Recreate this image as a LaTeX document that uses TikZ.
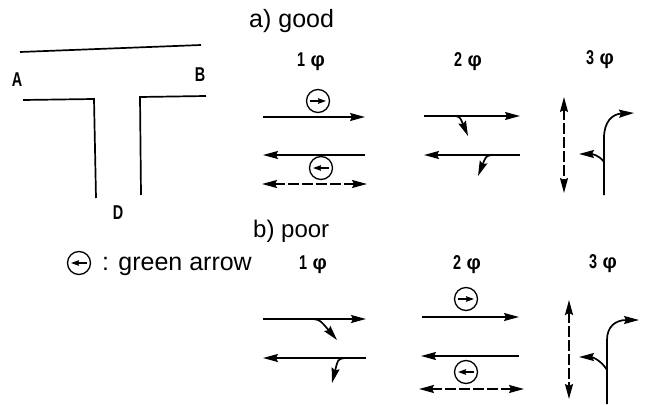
\documentclass[tikz,border=0pt]{standalone}
\usepackage{fontspec}
\setmainfont{Liberation Sans}
\usetikzlibrary{arrows.meta,calc}
\tikzset{
  wall/.style={line width=1.7pt,line join=miter},
  road/.style={line width=1.7pt,-{Stealth[length=15pt,width=8pt,inset=2pt]}},
  twoway/.style={line width=1.8pt,dash pattern=on 11pt off 3pt,{Stealth[length=15pt,width=8pt,inset=2pt]}-{Stealth[length=15pt,width=8pt,inset=2pt]}},
  turn/.style={line width=1.7pt,-{Stealth[length=15pt,width=8pt,inset=2pt]}},
  green/.style={draw,circle,line width=1.3pt,minimum size=23pt,inner sep=0pt},
  mini/.style={line width=1.6pt,-{Stealth[length=8pt,width=5.5pt,inset=1pt]}},
  lab/.style={font=\fontsize{25}{28}\selectfont,inner sep=0pt,anchor=base west},
  letter/.style={font=\bfseries\fontsize{20}{22}\selectfont,inner sep=0pt},
  phase/.style={font=\bfseries\fontsize{20}{22}\selectfont,inner sep=0pt}
}
\newcommand{\narrow}[1]{\scalebox{0.72}[1]{#1}}
\newcommand{\greenmark}[3]{%
  \node[green] (#1) at (#2) {};
  \coordinate (#1s) at ($(#1)+(#3*-8,0)$);
  \coordinate (#1e) at ($(#1)+(#3*8,0)$);
  \draw[mini] (#1s) -- (#1e);
}
\begin{document}
\begin{tikzpicture}[x=1pt,y=-1pt]
\useasboundingbox (0,0) rectangle (647,404);
% T intersection
\coordinate (t1) at (20,52); \coordinate (t2) at (201,45);
\draw[wall] (t1) -- (t2);
\coordinate (l1) at (23,100); \coordinate (l2) at (94,99); \coordinate (l3) at (96,198);
\draw[wall] (l1) -- (l2) -- (l3);
\coordinate (r1) at (206,96); \coordinate (r2) at (140,97); \coordinate (r3) at (141,195);
\draw[wall] (r1) -- (r2) -- (r3);
\node[letter] (A) at (17,80) {\narrow{A}};
\node[letter] (B) at (200,75) {\narrow{B}};
\node[letter] (D) at (118,213) {\narrow{D}};
% titles
\node[lab] (ta) at (249,28) {a) good};
\node[lab,font=\fontsize{24}{28}\selectfont] (tb) at (253,237) {b) poor};
\greenmark{leg}{79,263}{-1}
\node[lab] (legt) at (102,270) {: green arrow};
% phase labels
\node[phase] (pa1) at (311,62) {\narrow{1} φ};
\node[phase] (pa2) at (468,62) {\narrow{2} φ};
\node[phase] (pa3) at (600,60) {\narrow{3} φ};
\node[phase] (pb1) at (313,265) {\narrow{1} φ};
\node[phase] (pb2) at (467,265) {\narrow{2} φ};
\node[phase] (pb3) at (603,264) {\narrow{3} φ};
% a) phase 1
\coordinate (a1) at (263,117); \coordinate (a2) at (365,117);
\draw[road] (a1) -- (a2);
\coordinate (a3) at (365,155); \coordinate (a4) at (263,155);
\draw[road] (a3) -- (a4);
\coordinate (a5) at (262,184); \coordinate (a6) at (367,184);
\draw[twoway] (a5) -- (a6);
\greenmark{ga1}{318,101}{1}
\greenmark{ga2}{321,168}{-1}
% a) phase 2
\coordinate (b1) at (424,116); \coordinate (b2) at (520,116);
\draw[road] (b1) -- (b2);
\coordinate (b3) at (520,155); \coordinate (b4) at (424,155);
\draw[road] (b3) -- (b4);
\coordinate (b5) at (455,116); \coordinate (b6) at (468,136);
\draw[turn] (b5) .. controls (460,117) .. (b6);
\coordinate (b7) at (492,155); \coordinate (b8) at (478,176);
\draw[turn] (b7) .. controls (486,156) .. (b8);
% a) phase 3
\coordinate (c1) at (564,97); \coordinate (c2) at (564,193);
\draw[twoway] (c1) -- (c2);
\coordinate (c3) at (604,195); \coordinate (c4) at (604,138); \coordinate (c5) at (634,113);
\draw[turn] (c3) -- (c4) .. controls (604,122) and (612,114) .. (c5);
\coordinate (c6) at (604,162); \coordinate (c7) at (579,154);
\draw[turn] (c6) .. controls (599,155) and (592,154) .. (c7);
% b) phase 1
\coordinate (d1) at (263,319); \coordinate (d2) at (366,319);
\draw[road] (d1) -- (d2);
\coordinate (d3) at (366,358); \coordinate (d4) at (263,358);
\draw[road] (d3) -- (d4);
\coordinate (d5) at (313,319); \coordinate (d6) at (337,340);
\draw[turn] (d5) .. controls (320,320) .. (d6);
\coordinate (d7) at (345,358); \coordinate (d8) at (332,383);
\draw[turn] (d7) .. controls (338,359) .. (d8);
% b) phase 2
\coordinate (e1) at (422,317); \coordinate (e2) at (519,317);
\draw[road] (e1) -- (e2);
\coordinate (e3) at (519,356); \coordinate (e4) at (421,356);
\draw[road] (e3) -- (e4);
\coordinate (e5) at (419,389); \coordinate (e6) at (524,389);
\draw[twoway] (e5) -- (e6);
\greenmark{gb1}{466,299}{1}
\greenmark{gb2}{466,372}{-1}
% b) phase 3
\coordinate (f1) at (569,300); \coordinate (f2) at (569,399);
\draw[twoway] (f1) -- (f2);
\coordinate (f3) at (607,404); \coordinate (f4) at (607,340); \coordinate (f5) at (639,320);
\draw[turn] (f3) -- (f4) .. controls (607,327) and (615,320) .. (f5);
\coordinate (f6) at (607,370); \coordinate (f7) at (579,357);
\draw[turn] (f6) .. controls (601,360) and (592,357) .. (f7);
\end{tikzpicture}
\end{document}
